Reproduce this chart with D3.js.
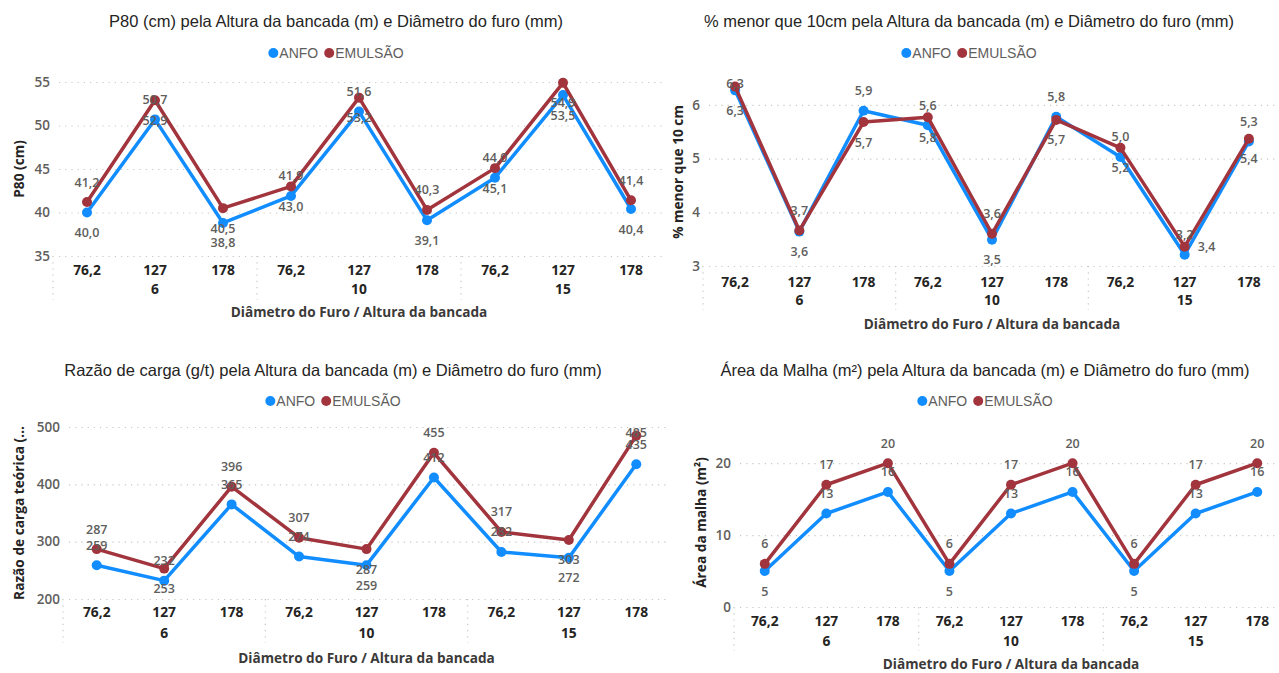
<!DOCTYPE html>
<html>
<head>
<meta charset="utf-8">
<script src="https://cdn.jsdelivr.net/npm/d3@7"></script>
<style>
  body { margin: 0; background: #ffffff; }
  svg { display: block; }
</style>
</head>
<body>
<svg id="painel" width="1279" height="673"></svg>
<script>
// Categories: hole diameter (mm) nested inside bench height (m)
const diametros = ["76,2", "127", "178"];
const alturas = ["6", "10", "15"];
const seriesNomes = ["ANFO", "EMULSÃO"];
const seriesCores = ["#118DFF", "#A1343C"];

// P80 (cm)
const p80Anfo    = [40.0, 50.7, 38.8, 41.9, 51.6, 39.1, 44.0, 53.5, 40.4];
const p80Emulsao = [41.2, 52.9, 40.5, 43.0, 53.2, 40.3, 45.1, 54.9, 41.4];
const p80Ticks   = [35, 40, 45, 50, 55];

// % menor que 10 cm
const menorAnfo    = [6.27, 3.64, 5.89, 5.62, 3.49, 5.78, 5.03, 3.21, 5.32];
const menorEmulsao = [6.34, 3.66, 5.68, 5.77, 3.60, 5.72, 5.20, 3.36, 5.37];
const menorTicks   = [3, 4, 5, 6];

// Razão de carga (g/t)
const razaoAnfo    = [259, 232, 365, 274, 259, 412, 282, 272, 435];
const razaoEmulsao = [287, 253, 396, 307, 287, 455, 317, 303, 485];
const razaoTicks   = [200, 300, 400, 500];

// Área da malha (m²)
const areaAnfo    = [5, 13, 16, 5, 13, 16, 5, 13, 16];
const areaEmulsao = [6, 17, 20, 6, 17, 20, 6, 17, 20];
const areaTicks   = [0, 10, 20];

// Data label side for each point: a = above, b = below, r = right
const p80LadoAnfo      = ["b","a","b","a","a","b","a","b","b"];
const p80LadoEmulsao   = ["a","b","b","b","b","a","b","b","a"];
const menorLadoAnfo    = ["b","b","a","a","b","a","a","a","a"];
const menorLadoEmulsao = ["a","a","b","b","a","b","b","r","b"];
const razaoLadoAnfo    = ["a","a","a","a","b","a","a","b","a"];
const razaoLadoEmulsao = ["a","b","a","a","b","a","a","b","a"];
const areaLadoAnfo     = ["b","a","a","b","a","a","b","a","a"];
const areaLadoEmulsao  = ["a","a","a","a","a","a","a","a","a"];

const ptBR = d3.formatLocale({ decimal: ",", thousands: ".", grouping: [3], currency: ["R$", ""] });
const fmt1 = ptBR.format(".1f");
const fmt0 = ptBR.format(".0f");

const FONTE_TITULO = "'Liberation Sans', Arial, sans-serif";
const FONTE_EIXO = "'Open Sans', 'Noto Sans', sans-serif";

const categorias = [];
alturas.forEach(a => diametros.forEach(d => categorias.push(a + "|" + d)));

const svg = d3.select("#painel");

const graficos = [
  {
    titulo: "P80 (cm) pela Altura da bancada (m) e Diâmetro do furo (mm)",
    tituloX: 336, tituloY: 21, legendaY: 53,
    eixoY: "P80 (cm)", eixoYX: 18,
    dominio: [35, 55], ticks: p80Ticks,
    esq: 53, dir: 665, base: 256, topo: 82,
    rotX: 269, grupoY: 288, tituloXY: 311,
    anfo: p80Anfo, emul: p80Emulsao, ladoA: p80LadoAnfo, ladoE: p80LadoEmulsao, fmt: fmt1
  },
  {
    titulo: "% menor que 10cm pela Altura da bancada (m) e Diâmetro do furo (mm)",
    tituloX: 969, tituloY: 21, legendaY: 53,
    eixoY: "% menor que 10 cm", eixoYX: 677,
    dominio: [3, 6.5], ticks: menorTicks,
    esq: 703, dir: 1281, base: 266, topo: 78,
    rotX: 281, grupoY: 299, tituloXY: 323,
    anfo: menorAnfo, emul: menorEmulsao, ladoA: menorLadoAnfo, ladoE: menorLadoEmulsao, fmt: fmt1
  },
  {
    titulo: "Razão de carga (g/t) pela Altura da bancada (m) e Diâmetro do furo (mm)",
    tituloX: 333, tituloY: 370, legendaY: 401,
    eixoY: "Razão de carga teórica (…", eixoYX: 18,
    dominio: [200, 500], ticks: razaoTicks,
    esq: 63, dir: 670, base: 599, topo: 427,
    rotX: 611, grupoY: 632, tituloXY: 657,
    anfo: razaoAnfo, emul: razaoEmulsao, ladoA: razaoLadoAnfo, ladoE: razaoLadoEmulsao, fmt: fmt0
  },
  {
    titulo: "Área da Malha (m²) pela Altura da bancada (m) e Diâmetro do furo (mm)",
    tituloX: 985, tituloY: 370, legendaY: 401,
    eixoY: "Área da malha (m²)", eixoYX: 700,
    dominio: [0, 23.5], ticks: areaTicks,
    esq: 734, dir: 1288, base: 607, topo: 438,
    rotX: 620, grupoY: 640, tituloXY: 663,
    anfo: areaAnfo, emul: areaEmulsao, ladoA: areaLadoAnfo, ladoE: areaLadoEmulsao, fmt: fmt0
  }
];

function desenhar(g) {
  const grp = svg.append("g");

  const x = d3.scaleBand().domain(categorias).range([g.esq, g.dir]).padding(0);
  const bw = x.bandwidth();
  const cx = k => x(k) + bw / 2;
  const y = d3.scaleLinear().domain(g.dominio).range([g.base, g.topo]);

  // Title
  grp.append("text")
    .attr("x", g.tituloX).attr("y", g.tituloY)
    .attr("text-anchor", "middle").attr("dominant-baseline", "central")
    .style("font-family", FONTE_TITULO).style("font-size", "16.5px").style("fill", "#252423")
    .text(g.titulo);

  // Legend
  const leg = grp.append("g");
  let pos = 0;
  seriesNomes.forEach((nome, i) => {
    leg.append("circle").attr("cx", pos + 5).attr("cy", 0).attr("r", 5).style("fill", seriesCores[i]);
    const t = leg.append("text").attr("x", pos + 11).attr("y", 0)
      .attr("dominant-baseline", "central")
      .style("font-family", FONTE_TITULO).style("font-size", "14px").style("fill", "#605E5C")
      .text(nome);
    pos += 11 + t.node().getComputedTextLength() + 6;
  });
  const largura = pos - 6;
  leg.attr("transform", `translate(${g.tituloX - largura / 2},${g.legendaY})`);

  // Y axis with dotted gridlines
  const ay = grp.append("g")
    .attr("transform", `translate(${g.esq},0)`)
    .call(d3.axisLeft(y).tickValues(g.ticks).tickSizeInner(-(g.dir - g.esq)).tickSizeOuter(0).tickPadding(4)
      .tickFormat(d => ptBR.format("d")(d)));
  ay.select(".domain").remove();
  ay.selectAll(".tick line")
    .attr("x1", 6)
    .style("stroke", "#C8C6C4").style("stroke-width", 1.2).style("stroke-dasharray", "1.2,5");
  ay.selectAll(".tick text")
    .attr("x", -3)
    .style("font-family", FONTE_EIXO).style("font-weight", 600).style("font-size", "13.5px").style("fill", "#605E5C");

  // Y axis title
  grp.append("text")
    .attr("transform", `translate(${g.eixoYX},${(g.base + g.topo) / 2}) rotate(-90)`)
    .attr("text-anchor", "middle").attr("dominant-baseline", "central")
    .style("font-family", FONTE_EIXO).style("font-weight", 700).style("font-size", "13.7px").style("fill", "#252423")
    .text(g.eixoY);

  // X axis: diameter labels
  const ax = grp.append("g")
    .attr("transform", `translate(0,${g.base})`)
    .call(d3.axisBottom(x).tickSize(0).tickPadding(0).tickFormat(k => k.split("|")[1]));
  ax.select(".domain").remove();
  ax.selectAll(".tick text")
    .attr("y", g.rotX - g.base).attr("dy", null).attr("dominant-baseline", "central")
    .style("font-family", FONTE_EIXO).style("font-weight", 700).style("font-size", "13.8px").style("fill", "#252423");

  // Bench height group labels and separators
  alturas.forEach((a, i) => {
    grp.append("text")
      .attr("x", cx(a + "|" + diametros[1])).attr("y", g.grupoY)
      .attr("text-anchor", "middle").attr("dominant-baseline", "central")
      .style("font-family", FONTE_EIXO).style("font-weight", 700).style("font-size", "13.8px").style("fill", "#252423")
      .text(a);
    const xs = x(a + "|" + diametros[0]);
    grp.append("line")
      .attr("x1", xs).attr("x2", xs).attr("y1", g.base).attr("y2", g.base + 44)
      .style("stroke", "#C8C6C4").style("stroke-width", 1.2).style("stroke-dasharray", "1.2,5");
  });

  // X axis title
  grp.append("text")
    .attr("x", (g.esq + g.dir) / 2).attr("y", g.tituloXY)
    .attr("text-anchor", "middle").attr("dominant-baseline", "central")
    .style("font-family", FONTE_EIXO).style("font-weight", 700).style("font-size", "13.6px").style("fill", "#3B3A39")
    .text("Diâmetro do Furo / Altura da bancada");

  // Lines and markers
  const seriesDados = [g.anfo, g.emul];
  const linha = d3.line().x((d, i) => cx(categorias[i])).y(d => y(d));
  seriesDados.forEach((dados, s) => {
    grp.append("path").datum(dados)
      .attr("d", linha)
      .style("fill", "none").style("stroke", seriesCores[s]).style("stroke-width", 3.5)
      .style("stroke-linejoin", "round");
    grp.selectAll(null).data(dados).enter().append("circle")
      .attr("cx", (d, i) => cx(categorias[i])).attr("cy", d => y(d)).attr("r", 5)
      .style("fill", seriesCores[s]);
  });

  // Data labels
  const lados = [g.ladoA, g.ladoE];
  seriesDados.forEach((dados, s) => {
    grp.selectAll(null).data(dados).enter().append("text")
      .attr("x", (d, i) => cx(categorias[i]) + (lados[s][i] === "r" ? 22 : 0))
      .attr("y", (d, i) => {
        const lado = lados[s][i];
        const py = y(d) + (lado === "a" ? -20 : lado === "b" ? 20 : 0);
        return Math.max(py, g.topo + 5);
      })
      .attr("text-anchor", "middle").attr("dominant-baseline", "central")
      .style("font-family", FONTE_EIXO).style("font-weight", 600).style("font-size", "12.5px").style("fill", "#605E5C")
      .text(d => g.fmt(d));
  });
}

graficos.forEach(desenhar);
</script>
</body>
</html>
